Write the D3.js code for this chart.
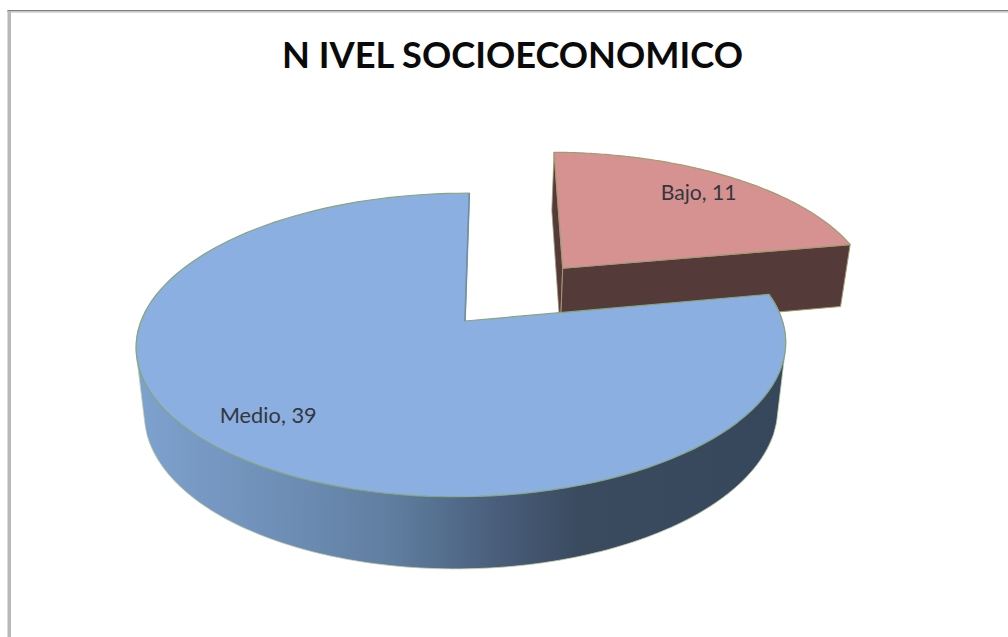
<!DOCTYPE html>
<html lang="es">
<head>
<meta charset="utf-8">
<title>Nivel socioeconómico</title>
<script src="https://cdn.jsdelivr.net/npm/d3@7"></script>
<style>
  html, body { margin: 0; padding: 0; background: #fff; }
  svg { display: block; }
  text { font-family: Lato, "Open Sans", sans-serif; }
</style>
</head>
<body>
<svg id="chart" width="1008" height="637"></svg>
<script>
// Chart content
const chartTitle = "N IVEL SOCIOECONOMICO";
const categories = ["Bajo", "Medio"];
const values = [11, 39];

// Per-slice styling
const topColors = ["#d69291", "#8aafe0"];
const edgeColors = ["#a39a72", "#86a57c"];
const explode = [{ u: 0.318, v: -0.379, r: 1.016 }, { u: 0, v: 0, r: 1 }];

const svg = d3.select("#chart");
const width = +svg.attr("width");
const height = +svg.attr("height");

// Perspective view of the pie's plane: (u, v) are unit-disc coordinates,
// v pointing towards the viewer. "level" picks the top face or the base.
const view = {
  cx: 465, radiusX: 320.7, skew: -5, depthK: 0.158, sideK: 0.01,
  top: { cy: 321, radiusY: 148, shrink: 1 },
  base: { cy: 386, radiusY: 154, shrink: 0.975 }
};
function project(u, v, level) {
  const w = 1 - view.depthK * v + view.sideK * u;
  const p = view[level];
  return [
    view.cx + p.shrink * (view.radiusX * u + view.skew * v) / w,
    p.cy + p.radiusY * v / w
  ];
}

// Angles come from the pie layout; Bajo starts at twelve o'clock, clockwise.
const slices = d3.pie().sort(null).value(d => d)(values);
slices.forEach((s, i) => { s.name = categories[i]; s.offset = explode[i]; });

const onRim = (s, angle, level) =>
  project(s.offset.u + s.offset.r * Math.sin(angle), s.offset.v - s.offset.r * Math.cos(angle), level);
const apex = (s, level) => project(s.offset.u, s.offset.v, level);
const rim = (s, from, to, level) =>
  d3.range(0, 121).map(k => onRim(s, from + (to - from) * k / 120, level));

const line = d3.line();
const closed = pts => line(pts) + "Z";

// Side shading runs from pale steel on the left to slate on the right
const defs = svg.append("defs");
const grad = defs.append("linearGradient")
  .attr("id", "sideShade").attr("gradientUnits", "userSpaceOnUse")
  .attr("x1", 136).attr("x2", 785).attr("y1", 0).attr("y2", 0);
[[0, "#7ea2cf"], [0.25, "#6c8cb3"], [0.4, "#5f7d9f"], [0.55, "#4a5f7c"],
 [0.68, "#3a4b60"], [1, "#37475b"]]
  .forEach(([o, c]) => grad.append("stop").attr("offset", o).attr("stop-color", c));

// Chart frame: only the top and left edges fall inside the page
svg.append("rect").attr("x", 7.5).attr("y", 10).attr("width", 3.5).attr("height", height - 10).attr("fill", "#b8b8b8");
svg.append("rect").attr("x", 7.5).attr("y", 10).attr("width", width - 7.5).attr("height", 1.4).attr("fill", "#7f7f7f");
svg.append("rect").attr("x", 7.5).attr("y", 11.4).attr("width", width - 7.5).attr("height", 1.2).attr("fill", "#c4c4c4");

svg.append("text")
  .attr("x", 512.5).attr("y", 68)
  .attr("text-anchor", "middle")
  .attr("font-size", 37).attr("font-weight", 700).attr("fill", "#0a0a0a")
  .attr("textLength", 461).attr("lengthAdjust", "spacingAndGlyphs")
  .text(chartTitle);

const [bajo, medio] = slices;
const wallFill = "#553a3a";

// Exploded slice: hidden-side wall, cut face, then its top
svg.append("path")
  .attr("d", closed([onRim(bajo, bajo.startAngle, "top"), onRim(bajo, bajo.startAngle, "base"),
                     apex(bajo, "base"), apex(bajo, "top")]))
  .attr("fill", wallFill).attr("stroke", edgeColors[0]).attr("stroke-width", 0.8);
svg.append("path")
  .attr("d", closed([apex(bajo, "top"), onRim(bajo, bajo.endAngle, "top"),
                     onRim(bajo, bajo.endAngle, "base"), apex(bajo, "base")]))
  .attr("fill", wallFill).attr("stroke", edgeColors[0]).attr("stroke-width", 1);
svg.append("path")
  .attr("d", closed([apex(bajo, "top"), ...rim(bajo, bajo.startAngle, bajo.endAngle, "top")]))
  .attr("fill", topColors[0]).attr("stroke", edgeColors[0]).attr("stroke-width", 1.2)
  .attr("stroke-linejoin", "round");

// Large slice: curved side along the front half, plus the straight
// silhouettes that join the top rim and the base at either extreme
const sideFrom = Math.PI * 0.44;
const sideTo = Math.PI * 1.56;
const sideStyle = sel => sel.attr("fill", "url(#sideShade)").attr("stroke", "#c3d0a8").attr("stroke-width", 0.8);
[[Math.PI * 1.2, sideTo], [sideFrom, Math.PI * 0.8]].forEach(([a, b]) => {
  const hull = d3.polygonHull([...rim(medio, a, b, "top"), ...rim(medio, a, b, "base")]);
  svg.append("path").attr("d", closed(hull)).call(sideStyle);
});
svg.append("path")
  .attr("d", closed([...rim(medio, Math.PI * 0.6, Math.PI * 1.4, "top"),
                     ...rim(medio, Math.PI * 0.6, Math.PI * 1.4, "base").reverse()]))
  .call(sideStyle).attr("stroke", "none");
svg.append("path")
  .attr("d", line(rim(medio, Math.PI * 0.6, Math.PI * 1.4, "base")))
  .attr("fill", "none").attr("stroke", "#c3d0a8").attr("stroke-width", 0.8);
svg.append("path")
  .attr("d", closed([apex(medio, "top"), ...rim(medio, medio.startAngle, medio.endAngle, "top")]))
  .attr("fill", topColors[1]).attr("stroke", edgeColors[1]).attr("stroke-width", 1.2)
  .attr("stroke-linejoin", "round");
svg.append("path")
  .attr("d", line([onRim(medio, medio.endAngle, "top"), apex(medio, "top")]))
  .attr("fill", "none").attr("stroke", "#6f8fa8").attr("stroke-width", 1.6);

// Data labels sit inside each top face, along the slice's mid-angle
const labelSpots = [{ r: 0.83, dx: -3, dy: 0 }, { r: 0.75, dx: -24, dy: -1 }];
slices.forEach((s, i) => {
  const mid = (s.startAngle + s.endAngle) / 2;
  const { r, dx, dy } = labelSpots[i];
  const [x, y] = project(s.offset.u + r * Math.sin(mid), s.offset.v - r * Math.cos(mid), "top");
  svg.append("text")
    .attr("x", x + dx).attr("y", y + dy)
    .attr("text-anchor", "middle").attr("dominant-baseline", "central")
    .attr("font-size", 21.5).attr("fill", "#33373d")
    .attr("textLength", i === 0 ? 76 : 97).attr("lengthAdjust", "spacingAndGlyphs")
    .text(`${s.name}, ${s.value}`);
});
</script>
</body>
</html>
